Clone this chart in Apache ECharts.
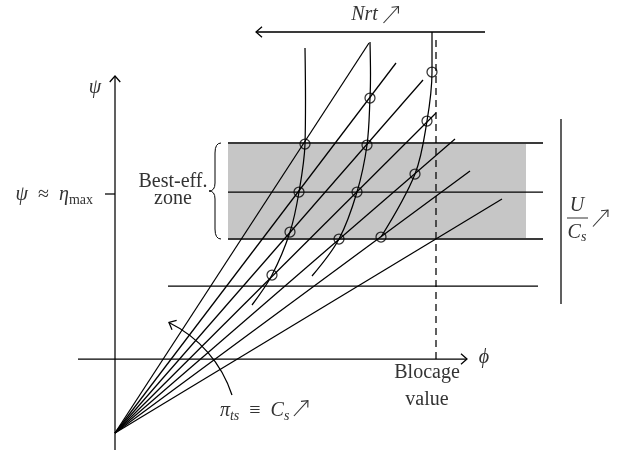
<!DOCTYPE html>
<html>
<head>
<meta charset="utf-8">
<script src="https://cdn.jsdelivr.net/npm/echarts@6/dist/echarts.min.js"></script>
<style>
  html, body { margin: 0; padding: 0; background: #fff; }
  #chart { width: 629px; height: 457px; }
</style>
</head>
<body>
<div id="chart"></div>
<script>
// Operating-point map in the (phi, psi) plane, arbitrary units.

// Pressure-coefficient rays (pi_ts = Cs) all start from one pole below the phi axis.
const fanOrigin = [0, -7.4];
const fanEnds = [
  [25.4, 31.6], [28.1, 29.6], [30.8, 27.9], [32.1, 24.6],
  [34.0, 22.0], [35.5, 18.8], [38.7, 16.0]
];

// Iso-speed curves (Nrt), from left to right.
const curveLeft  = [[19.0, 31.1], [19.05, 26.0], [19.0, 21.5], [18.4, 16.7], [17.5, 12.7], [15.7, 8.4], [13.7, 5.4]];
const curveMid   = [[25.5, 31.7], [25.55, 28.5], [25.5, 26.1], [25.2, 21.4], [24.2, 16.7], [22.4, 12.0], [19.7, 8.3]];
const curveRight = [[31.7, 32.7], [31.7, 28.7], [31.2, 23.8], [30.0, 18.5], [26.6, 12.2]];

// Marked operating points where a curve meets a ray.
const pointsLeft  = [[19.0, 21.5], [18.4, 16.7], [17.5, 12.7], [15.7, 8.4]];
const pointsMid   = [[25.5, 26.1], [25.2, 21.4], [24.2, 16.7], [22.4, 12.0]];
const pointsRight = [[31.7, 28.7], [31.2, 23.8], [30.0, 18.5], [26.6, 12.2]];

// Best-efficiency zone: lower edge, centre, upper edge (psi) and phi extent.
const zoneLevels = [12.0, 16.7, 21.6];
const zoneShade = [11.3, 41.1];
const zoneLineSpan = [11.3, 42.8];
const lowerLevel = 7.3;
const lowerSpan = [5.3, 42.3];

const blocagePhi = 32.1;
const nrtLevel = 32.7;
const nrtSpan = [14.1, 37.0];
const etaMaxLevel = 16.5;
const ucsPhi = 44.6;
const ucsSpan = [5.5, 24.0];
const phiAxisSpan = [-3.7, 35.2];
const psiAxisSpan = [-9.1, 28.3];

const INK = '#000';
const TXT = '#333';
const LW = 1.25;
const SERIF = '"Liberation Serif", "DejaVu Serif", serif';

function seg(a, b, style) {
  return {
    type: 'line', data: [a, b], symbol: 'none', silent: true,
    lineStyle: Object.assign({ color: INK, width: LW }, style || {}), z: 3
  };
}
function curve(pts) {
  return {
    type: 'line', data: pts, symbol: 'none', smooth: 0.35, silent: true,
    lineStyle: { color: INK, width: LW }, z: 3
  };
}
function rings(pts) {
  return {
    type: 'scatter', data: pts, symbol: 'circle', symbolSize: 10, silent: true,
    itemStyle: { color: 'rgba(0,0,0,0)', borderColor: INK, borderWidth: LW }, z: 5
  };
}

const series = [];
// axes
series.push(seg([phiAxisSpan[0], 0], [phiAxisSpan[1], 0]));
series.push(seg([0, psiAxisSpan[0]], [0, psiAxisSpan[1]]));
series.push(seg([-1.0, etaMaxLevel], [0, etaMaxLevel]));
// shaded zone and its lines
series.push({
  type: 'line', data: [], silent: true,
  markArea: {
    silent: true, itemStyle: { color: '#c6c6c6' },
    data: [[{ coord: [zoneShade[0], zoneLevels[0]] }, { coord: [zoneShade[1], zoneLevels[2]] }]]
  }, z: 1
});
series.push(seg([zoneLineSpan[0], zoneLevels[0]], [zoneLineSpan[1], zoneLevels[0]], { color: '#3a3a3a', width: 2 }));
series.push(seg([zoneLineSpan[0], zoneLevels[1]], [zoneLineSpan[1], zoneLevels[1]]));
series.push(seg([zoneLineSpan[0], zoneLevels[2]], [zoneLineSpan[1], zoneLevels[2]], { color: '#3a3a3a', width: 2 }));
series.push(seg([lowerSpan[0], lowerLevel], [lowerSpan[1], lowerLevel]));
// blocage limit and Nrt arrow
series.push(seg([blocagePhi, 0], [blocagePhi, nrtLevel - 0.8], { type: [7, 5] }));
series.push(seg([nrtSpan[0], nrtLevel], [nrtSpan[1], nrtLevel], { color: '#3a3a3a', width: 2 }));
series.push(seg([ucsPhi, ucsSpan[0]], [ucsPhi, ucsSpan[1]]));
// rays
fanEnds.forEach(e => series.push(seg(fanOrigin, e)));
// iso-speed curves
[curveLeft, curveMid, curveRight].forEach(c => series.push(curve(c)));
[pointsLeft, pointsMid, pointsRight].forEach(p => series.push(rings(p)));

const chart = echarts.init(document.getElementById('chart'));
chart.setOption({
  animation: false,
  grid: { left: 0, right: 0, top: 0, bottom: 0, containLabel: false },
  xAxis: { type: 'value', min: -11.5, max: 51.4, show: false },
  yAxis: { type: 'value', min: -9.8, max: 35.9, show: false },
  series: series
});

const P = p => chart.convertToPixel({ gridIndex: 0 }, p);

function chevron(tip, dir, len, color, width) {
  const L = len || 8, spread = 0.72;
  const back = dir + Math.PI;
  const a = [tip[0] + L * Math.cos(back - spread), tip[1] + L * Math.sin(back - spread)];
  const b = [tip[0] + L * Math.cos(back + spread), tip[1] + L * Math.sin(back + spread)];
  return { type: 'polyline', z: 10, shape: { points: [a, tip, b] },
    style: { stroke: color || INK, lineWidth: width || LW, fill: null } };
}
// small "increasing" arrow drawn after a symbol; (x, y) is its lower-left end
function nearrow(x, y, size) {
  const tip = [x + size, y - size * 1.1];
  return [
    { type: 'line', z: 10, shape: { x1: x, y1: y, x2: tip[0], y2: tip[1] }, style: { stroke: TXT, lineWidth: 1.1 } },
    chevron(tip, Math.atan2(-1.1, 1), 7, TXT, 1.1)
  ];
}
function qcurve(x1, y1, cx, cy, x2, y2) {
  return { type: 'bezierCurve', z: 10, shape: { x1: x1, y1: y1, cpx1: cx, cpy1: cy, x2: x2, y2: y2 },
    style: { stroke: INK, lineWidth: 1, fill: null } };
}
function vline(x, y1, y2) {
  return { type: 'line', z: 10, shape: { x1: x, y1: y1, x2: x, y2: y2 }, style: { stroke: INK, lineWidth: 1 } };
}
function text(str, x, y, opts) {
  const o = opts || {};
  return {
    type: 'text', z: 10,
    style: Object.assign({
      text: str, x: x, y: y, fill: TXT,
      fontFamily: SERIF, fontSize: 20,
      align: 'center', verticalAlign: 'middle', textAlign: 'center', textVerticalAlign: 'middle'
    }, o)
  };
}

const g = [];
const yTop = P([0, psiAxisSpan[1]]);
const xEnd = P([phiAxisSpan[1], 0]);
const nrtTip = P([nrtSpan[0], nrtLevel]);
g.push(chevron(yTop, -Math.PI / 2));
g.push(chevron(xEnd, 0));
g.push(chevron(nrtTip, Math.PI));

// pi_ts sweep arc around the pole
const pole = P(fanOrigin);
const r = 123, a0 = -64 * Math.PI / 180, a1 = -18 * Math.PI / 180;
g.push({ type: 'arc', z: 10, shape: { cx: pole[0], cy: pole[1], r: r, startAngle: a0, endAngle: a1, clockwise: true },
  style: { stroke: INK, lineWidth: LW, fill: null } });
const arcTip = [pole[0] + r * Math.cos(a0), pole[1] + r * Math.sin(a0)];
g.push(chevron(arcTip, Math.atan2(-Math.cos(a0), Math.sin(a0))));

// brace beside the best-efficiency zone
const bt = P([zoneShade[0], zoneLevels[2]]), bb = P([zoneShade[0], zoneLevels[0]]);
const xr = bt[0] - 7, xm = xr - 6, xl = xm - 6, ym = (bt[1] + bb[1]) / 2;
g.push(qcurve(xr, bt[1], xm, bt[1], xm, bt[1] + 10));
g.push(vline(xm, bt[1] + 10, ym - 8));
g.push(qcurve(xm, ym - 8, xm, ym, xl, ym));
g.push(qcurve(xl, ym, xm, ym, xm, ym + 8));
g.push(vline(xm, ym + 8, bb[1] - 10));
g.push(qcurve(xm, bb[1] - 10, xm, bb[1], xr, bb[1]));

const it = { fontStyle: 'italic', fontSize: 20, fontFamily: SERIF, lineHeight: 24, fill: TXT };
const rm = { fontSize: 20, fontFamily: SERIF, lineHeight: 24, fill: TXT };
const sub = { fontSize: 14, fontFamily: SERIF, lineHeight: 14, verticalAlign: 'bottom', fill: TXT };
const subIt = Object.assign({}, sub, { fontStyle: 'italic' });

// axis titles
g.push(text('{i|ψ}', yTop[0] - 20, yTop[1] + 12, { rich: { i: it } }));
g.push(text('{i|ϕ}', xEnd[0] + 17, xEnd[1] - 1, { rich: { i: it } }));
const tick = P([-1.0, etaMaxLevel]);
g.push(text('{i|ψ}  {r|≈}  {i|η}{s|max}', tick[0] - 12, tick[1] + 1,
  { align: 'right', textAlign: 'right', rich: { i: it, r: rm, s: sub } }));

// zone caption
g.push(text('Best-eff.', xl - 36, ym - 9));
g.push(text('zone', xl - 36, ym + 8));

// top caption
const nrtMid = P([(nrtSpan[0] + nrtSpan[1]) / 2, nrtLevel]);
g.push(text('{i|Nrt}', nrtMid[0] - 6, nrtMid[1] - 17, { rich: { i: it } }));
nearrow(nrtMid[0] + 13, nrtMid[1] - 9, 15).forEach(e => g.push(e));

// blocage caption under the dashed limit
const bl = P([blocagePhi, 0]);
g.push(text('Blocage', bl[0] - 9, bl[1] + 14));
g.push(text('value', bl[0] - 9, bl[1] + 41));

// pi_ts caption below the sweep arc
g.push(text('{i|π}{t|ts}  {r|≡}  {i|C}{t|s}', arcTip[0] + 51, pole[1] - 22,
  { align: 'left', textAlign: 'left', rich: { i: it, t: subIt, r: rm } }));
nearrow(arcTip[0] + 125, pole[1] - 17, 14).forEach(e => g.push(e));

// U / Cs label next to the bar
const ub = P([ucsPhi, (ucsSpan[0] + ucsSpan[1]) / 2]);
const fx = ub[0] + 16;
g.push(text('{i|U}', fx, ub[1] - 6, { rich: { i: it } }));
g.push({ type: 'line', z: 10, shape: { x1: fx - 10, y1: ub[1] + 6.5, x2: fx + 11, y2: ub[1] + 6.5 }, style: { stroke: TXT, lineWidth: 1 } });
g.push(text('{i|C}{t|s}', fx, ub[1] + 21, { rich: { i: it, t: subIt } }));
nearrow(fx + 16, ub[1] + 15, 15).forEach(e => g.push(e));

chart.setOption({ graphic: { elements: g } });
</script>
</body>
</html>
